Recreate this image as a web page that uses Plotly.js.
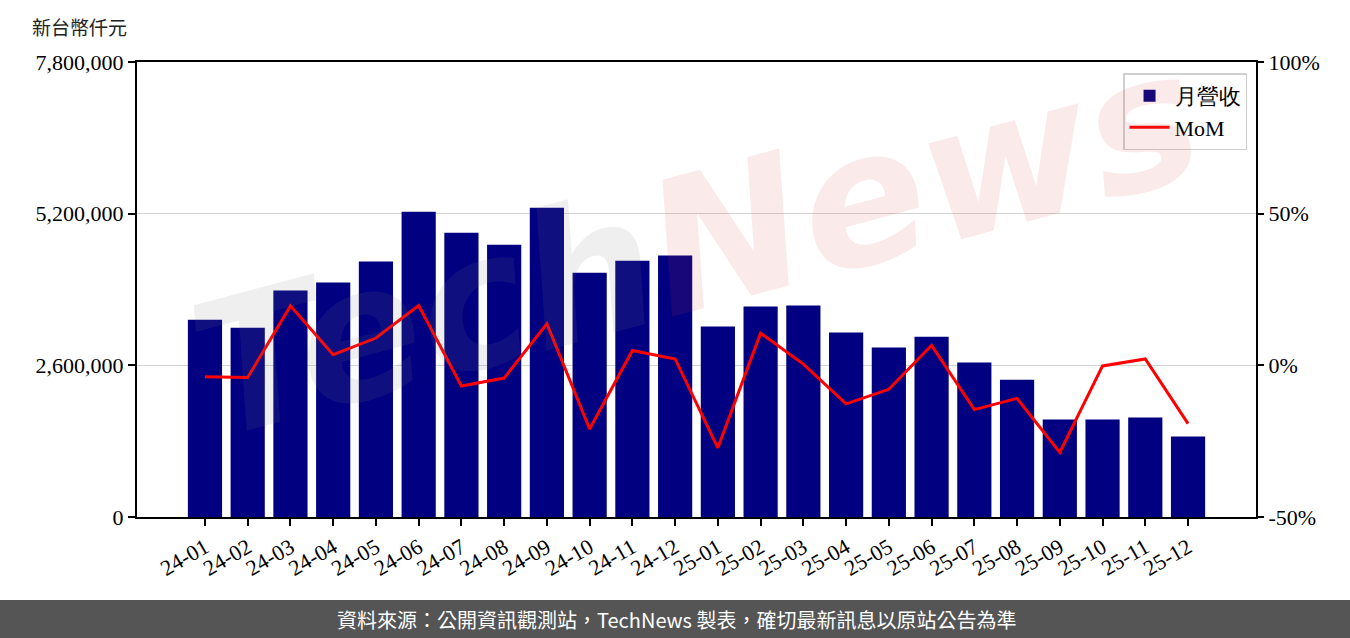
<!DOCTYPE html>
<html>
<head>
<meta charset="utf-8">
<script src="https://cdn.plot.ly/plotly-3.0.1.min.js"></script>
<style>html,body{margin:0;padding:0;background:#fff;}#chart{width:1350px;height:638px;}</style>
</head>
<body>
<div id="chart"></div>
<script>
const months = ["24-01","24-02","24-03","24-04","24-05","24-06","24-07","24-08","24-09","24-10","24-11","24-12",
                "25-01","25-02","25-03","25-04","25-05","25-06","25-07","25-08","25-09","25-10","25-11","25-12"];
const revenue = [3383000,3246000,3881000,4018000,4378000,5235000,4875000,4669000,5303000,4189000,4395000,4481000,
                 3264000,3607000,3624000,3161000,2904000,3092000,2647000,2355000,1670000,1670000,1704000,1378000];
const mom = [-3.8,-4.0,19.6,3.5,9.0,19.7,-6.8,-4.2,13.7,-21.0,4.9,2.1,
             -27.2,10.6,0.4,-12.7,-7.9,6.6,-14.6,-10.9,-28.7,-0.2,2.1,-19.2];
const leftTicks = [0,2600000,5200000,7800000];
const rightTicks = [-50,0,50,100];
const rightTickText = ["-50%","0%","50%","100%"];
const seriesNames = ["月營收","MoM"];
const unitLabel = "新台幣仟元";
const footerText = "資料來源：公開資訊觀測站，TechNews 製表，確切最新訊息以原站公告為準";

const idx = months.map((m,i)=>i);
const serif = "Liberation Serif, DejaVu Serif, serif";
const cjk = "Noto Sans CJK TC, Noto Sans CJK SC, sans-serif";

const traces = [
  {type:"bar", x:idx, y:revenue, name:seriesNames[0], marker:{color:"#000080"}, width:0.8, yaxis:"y", hoverinfo:"skip"},
  {type:"scatter", mode:"lines", x:idx, y:mom, name:seriesNames[1], line:{color:"#ff0000", width:3}, yaxis:"y2", hoverinfo:"skip"}
];

const layout = {
  width:1350, height:638,
  margin:{l:137, r:94, t:62, b:121},
  paper_bgcolor:"#fff", plot_bgcolor:"#fff",
  font:{family:serif, size:21, color:"#000"},
  showlegend:true,
  bargap:0.2,
  title:{text:unitLabel, x:32/1350, xanchor:"left", xref:"container", y:1-28/638, yanchor:"middle", yref:"container",
         font:{family:cjk, size:19, color:"#222"}},
  xaxis:{range:[-1.59,24.59], tickmode:"array", tickvals:idx, ticktext:months, tickangle:-30,
         showline:true, linecolor:"#000", linewidth:2, mirror:true, ticks:"outside", ticklen:7, tickwidth:2, tickcolor:"#000",
         showgrid:false, zeroline:false, tickfont:{family:serif, size:22}},
  yaxis:{range:[0,7800000], tickmode:"array", tickvals:leftTicks, tickformat:",d",
         showline:true, linecolor:"#000", linewidth:2, mirror:true, ticks:"outside", ticklen:7, tickwidth:2, tickcolor:"#000",
         showgrid:true, gridcolor:"#d3d3d3", gridwidth:1.6, zeroline:false, tickfont:{family:serif, size:22}},
  yaxis2:{range:[-50,100], overlaying:"y", side:"right", tickmode:"array", tickvals:rightTicks, ticktext:rightTickText,
          showline:false, ticks:"outside", ticklen:7, tickwidth:2, tickcolor:"#000",
          showgrid:false, zeroline:false, tickfont:{family:serif, size:22}},
  legend:{x:0.992, xanchor:"right", y:0.975, yanchor:"top", bgcolor:"rgba(255,255,255,0.85)", bordercolor:"#d0d0d0", borderwidth:1.5,
          font:{family:serif, size:22}, itemwidth:40, tracegroupgap:2},
  shapes:[
    {type:"rect", xref:"paper", yref:"paper", x0:(0-137)/1119, x1:(1350-137)/1119, y0:(517-600)/455, y1:(517-640)/455,
     fillcolor:"#555555", line:{width:0}, layer:"above"}
  ],
  annotations:[
    {text:'<span style="color:rgba(120,120,120,0.12)">Tech</span><span style="color:rgba(205,60,60,0.11)">News</span>',
     xref:"paper", yref:"paper", x:0.50, y:0.60, showarrow:false, textangle:-15,
     font:{family:"DejaVu Sans, sans-serif", size:185, style:"italic", weight:"bold"}},
    {text:footerText, xref:"paper", yref:"paper", x:(676-137)/1119, y:(517-619)/455, xanchor:"center", yanchor:"middle",
     showarrow:false, font:{family:cjk, size:20, color:"#ffffff"}}
  ]
};

Plotly.newPlot("chart", traces, layout, {displayModeBar:false, staticPlot:true});
</script>
</body>
</html>
